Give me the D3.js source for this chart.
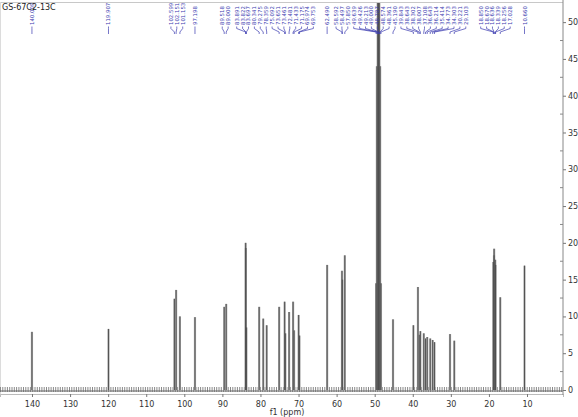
<!DOCTYPE html>
<html>
<head>
<meta charset="utf-8">
<script src="https://cdn.jsdelivr.net/npm/d3@7"></script>
<style>
  body { margin: 0; background: #fff; }
  svg { display: block; font-family: "DejaVu Sans", Verdana, sans-serif; }
</style>
</head>
<body>
<div id="chart"></div>
<script>
// spectrum data
const title = "GS-67C2-13C";
const peakPpm = [140.009, 119.907, 102.599, 102.151, 101.153, 97.198, 89.518, 89.000,
  83.891, 83.822, 83.697, 80.341, 79.275, 78.359, 75.092, 73.651, 73.461, 72.481,
  71.433, 71.175, 69.974, 69.753, 62.490, 58.592, 58.497, 57.850,
  49.639, 49.426, 49.213, 49.000, 48.787, 48.574, 48.361,
  45.190, 39.843, 38.643, 38.302, 38.007, 37.108, 36.643, 36.214, 35.414, 34.773,
  34.303, 30.221, 29.103, 18.850, 18.670, 18.636, 18.339, 18.256, 17.028, 10.660];
const peakHeight = [7.9, 8.3, 12.4, 13.6, 10.0, 9.9, 11.3, 11.7,
  20.0, 19.3, 8.5, 11.3, 9.7, 8.8, 11.3, 12.0, 7.7, 10.6,
  12.0, 8.1, 10.2, 7.4, 17.0, 16.2, 15.0, 18.3,
  14.5, 44, 88, 100, 88, 44, 14.5,
  9.6, 8.8, 14.0, 7.5, 8.0, 7.7, 7.0, 7.2, 7.0, 6.8,
  6.5, 7.6, 6.7, 17.4, 18.3, 19.2, 17.7, 17.0, 12.6, 16.9];
const xTicks = [140, 130, 120, 110, 100, 90, 80, 70, 60, 50, 40, 30, 20, 10];
const yTicks = [0, 5, 10, 15, 20, 25, 30, 35, 40, 45, 50];

const width = 578, height = 417;
const plotRight = 563, baseY = 390;

const svg = d3.select('#chart').append('svg')
  .attr('width', width)
  .attr('height', height);

const x = d3.scaleLinear().domain([148.4, 0.55]).range([0, plotRight]);
const y = d3.scaleLinear().domain([0, 52.6]).range([baseY, 3]);

const peaks = peakPpm.map((p, i) => ({ ppm: p, h: peakHeight[i] }));

// frame
svg.append('line')
  .attr('x1', 0).attr('x2', plotRight).attr('y1', 2.5).attr('y2', 2.5)
  .attr('stroke', '#c8c8c8');
svg.append('line')
  .attr('x1', 0.5).attr('x2', 0.5).attr('y1', 2).attr('y2', 396)
  .attr('stroke', '#dcdcdc');

svg.append('clipPath').attr('id', 'plot')
  .append('rect').attr('x', 0).attr('y', 3).attr('width', plotRight).attr('height', baseY + 4);

const plot = svg.append('g').attr('clip-path', 'url(#plot)');

// baseline noise band
plot.append('line')
  .attr('x1', 0).attr('x2', plotRight)
  .attr('y1', y(0) - 0.5).attr('y2', y(0) - 0.5)
  .attr('stroke', '#8a8a8a').attr('stroke-width', 5)
  .attr('stroke-dasharray', '1 1.3');
plot.append('line')
  .attr('x1', 0).attr('x2', plotRight)
  .attr('y1', y(0) + 1).attr('y2', y(0) + 1)
  .attr('stroke', '#666').attr('stroke-width', 1);

// peaks (stick spectrum)
plot.selectAll('line.peak')
  .data(peaks)
  .enter().append('line')
  .attr('class', 'peak')
  .attr('x1', d => x(d.ppm)).attr('x2', d => x(d.ppm))
  .attr('y1', y(0)).attr('y2', d => y(d.h))
  .attr('stroke', '#a8a8a8').attr('stroke-width', 2.2);
plot.selectAll('line.core')
  .data(peaks)
  .enter().append('line')
  .attr('class', 'core')
  .attr('x1', d => x(d.ppm)).attr('x2', d => x(d.ppm))
  .attr('y1', y(0)).attr('y2', d => y(d.h))
  .attr('stroke', '#4a4a4a').attr('stroke-width', 0.9);

// x axis
const xAxis = svg.append('g').attr('transform', 'translate(0,394)')
  .call(d3.axisBottom(x).tickValues(xTicks).tickSize(3).tickPadding(4));
xAxis.select('.domain').attr('stroke', '#bbb');
xAxis.selectAll('.tick line').attr('stroke', '#777');
xAxis.selectAll('text').attr('font-size', 8).attr('fill', '#333')
  .attr('font-family', '"DejaVu Sans", Verdana, sans-serif');
svg.append('text')
  .attr('x', 287).attr('y', 415)
  .attr('text-anchor', 'middle')
  .attr('font-size', 8).attr('fill', '#333')
  .text('f1 (ppm)');

// y axis
const yAxis = svg.append('g').attr('transform', `translate(${plotRight},0)`)
  .call(d3.axisRight(y).tickValues(yTicks).tickSize(3).tickPadding(2));
yAxis.select('.domain').attr('stroke', '#888')
  .attr('d', `M0,0V${baseY + 5}`);
yAxis.selectAll('.tick line').attr('stroke', '#777');
yAxis.selectAll('text').attr('font-size', 8).attr('fill', '#333')
  .attr('font-family', '"DejaVu Sans", Verdana, sans-serif');
svg.append('g').selectAll('line')
  .data(yTicks.slice(0, -1).map(v => v + 2.5))
  .enter().append('line')
  .attr('x1', plotRight - 3).attr('x2', plotRight)
  .attr('y1', d => y(d)).attr('y2', d => y(d))
  .attr('stroke', '#888');

// peak labels: spread overlapping labels apart
function spread(xs, gap) {
  let groups = xs.map(v => ({ xs: [v], c: v }));
  let merged = true;
  while (merged) {
    merged = false;
    for (let i = 0; i < groups.length - 1; i++) {
      const g = groups[i], h = groups[i + 1];
      const gEnd = g.c + (g.xs.length - 1) * gap / 2;
      const hStart = h.c - (h.xs.length - 1) * gap / 2;
      if (hStart - gEnd < gap) {
        const all = g.xs.concat(h.xs);
        groups.splice(i, 2, { xs: all, c: d3.mean(all) });
        merged = true;
        break;
      }
    }
  }
  const out = [];
  groups.forEach(g => g.xs.forEach((v, k) => out.push(g.c + (k - (g.xs.length - 1) / 2) * gap)));
  return out;
}

const peakX = peaks.map(d => x(d.ppm));
const labelX = spread(peakX, 5.9);
const fmt = d3.format('.3f');
const blue = '#3b3bb0';

const labels = svg.append('g');
labels.selectAll('text')
  .data(peaks)
  .enter().append('text')
  .attr('transform', (d, i) => `translate(${labelX[i] + 2},25) rotate(-90)`)
  .attr('font-size', 5.4)
  .attr('fill', blue)
  .text(d => fmt(d.ppm));
labels.selectAll('path')
  .data(peaks)
  .enter().append('path')
  .attr('d', (d, i) => `M${labelX[i]},26.5V28.5L${peakX[i]},32V34`)
  .attr('fill', 'none')
  .attr('stroke', blue)
  .attr('stroke-width', 0.7);

// title
svg.append('text')
  .attr('x', 2).attr('y', 10)
  .attr('font-size', 8).attr('fill', '#222')
  .text(title);
</script>
</body>
</html>
